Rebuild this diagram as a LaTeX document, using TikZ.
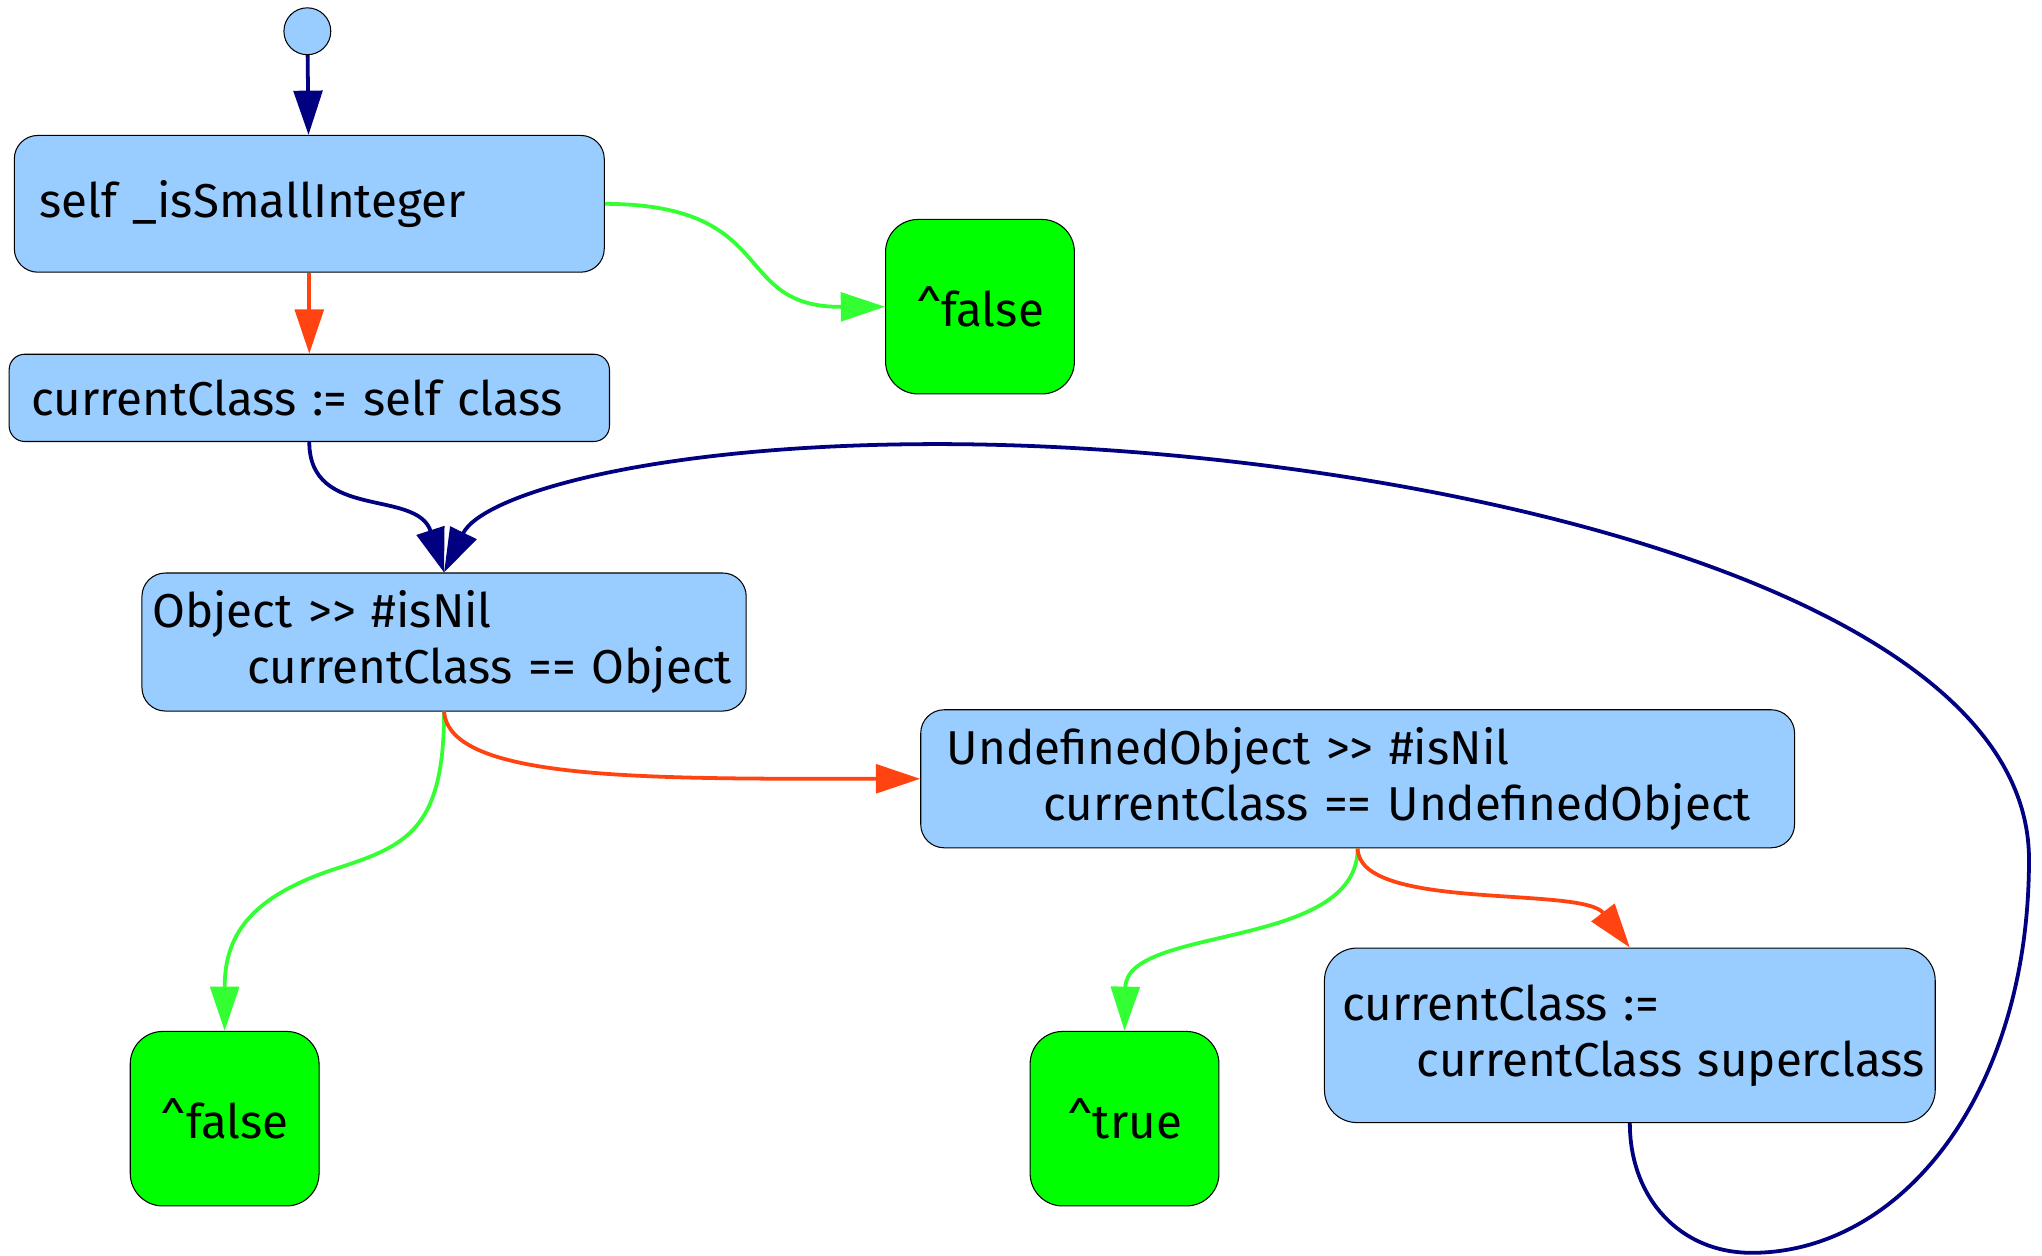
\documentclass[tikz,border=0pt]{standalone}
\usepackage{fontspec}
\setmainfont{Fira Sans}
\usetikzlibrary{arrows.meta}
\definecolor{boxblue}{HTML}{99CCFF}
\definecolor{termgreen}{HTML}{00FF00}
\definecolor{edgegreen}{HTML}{33FF33}
\definecolor{edgered}{HTML}{FF4411}
\definecolor{edgenavy}{HTML}{000080}
\begin{document}
\begin{tikzpicture}[x=1pt,y=-1pt,
  every node/.style={font=\fontsize{36.5}{43}\selectfont},
  actbox/.style={draw=black, line width=0.8pt, fill=boxblue, rounded corners=18pt, align=left, inner ysep=0pt},
  termbox/.style={draw=black, line width=0.8pt, fill=termgreen, rounded corners=25pt, minimum width=145pt, minimum height=134pt, inner sep=0pt},
  startdot/.style={circle, draw=black, line width=0.8pt, fill=boxblue, minimum size=36pt, inner sep=0pt},
  flow/.style={line width=2.9pt, -{Triangle[length=34pt,width=22pt]}},
  yes/.style={flow, edgegreen},
  no/.style={flow, edgered},
  plain/.style={flow, edgenavy}]
\useasboundingbox (0,0) rectangle (1568,964);
\node[startdot] (s) at (236,24) {};
\node[actbox, minimum height=105pt, inner xsep=19pt, text width=415pt] (b1) at (237.5,156.5) {\mbox{self \_isSmallInteger}};
\node[actbox, rounded corners=12pt, minimum height=67pt, inner xsep=17pt, text width=427pt] (b2) at (237.5,305.5) {\mbox{currentClass := self class}};
\node[actbox, minimum height=106pt, inner xsep=8pt, text width=448pt] (b3) at (341,493) {\mbox{Object >{}> \#isNil}\\\mbox{\hspace*{73pt}currentClass == Object}};
\node[actbox, minimum height=106pt, inner xsep=20pt, text width=631pt] (b4) at (1042.5,598) {\mbox{UndefinedObject >{}> \#isNil}\\\mbox{\hspace*{74pt}currentClass == UndefinedObject}};
\node[actbox, rounded corners=25pt, minimum height=134pt, inner xsep=14pt, text width=441pt] (b5) at (1251.5,795) {\mbox{currentClass :=}\\\mbox{\hspace*{57pt}currentClass superclass}};
\node[termbox] (f1) at (752.5,235.5) {\textasciicircum false};
\node[termbox] (f2) at (172.5,859) {\textasciicircum false};
\node[termbox] (t1) at (863.5,859) {\textasciicircum true};
\draw[plain] (s) -- (b1);
\draw[no] (b1) -- (b2);
\draw[yes] (b1.east) .. controls (600,157) and (560,236) .. (f1.west);
\draw[plain] (b2.south) .. controls (237.5,400) and (320,375) .. (b3.north);
\draw[plain] (b5.south) .. controls (1251.5,920) and (1290,962) .. (1345,962)
  .. controls (1460,962) and (1558,840) .. (1558,660)
  .. controls (1558,440) and (1050,341) .. (720,341)
  .. controls (500,341) and (370,380) .. (b3.north);
\draw[yes] (b3.south) .. controls (341,640) and (310,650) .. (255,668)
  .. controls (190,690) and (172.5,720) .. (f2.north);
\draw[no] (b3.south) .. controls (345,600) and (500,598) .. (b4.west);
\draw[yes] (b4.south) .. controls (1042.5,730) and (865,710) .. (t1.north);
\draw[no] (b4.south) .. controls (1043,700) and (1215,680) .. (b5.north);
\end{tikzpicture}
\end{document}
